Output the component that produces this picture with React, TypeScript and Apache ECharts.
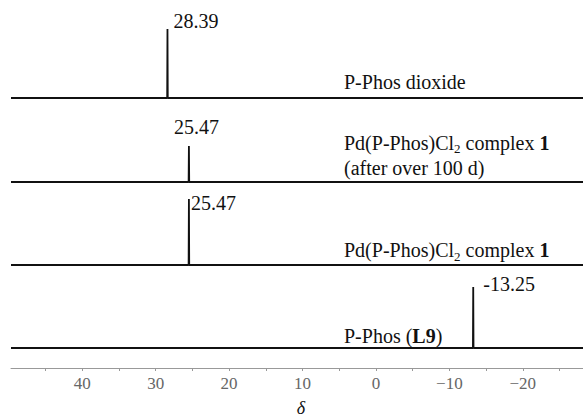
import React, { useEffect, useRef } from "react";
import * as echarts from "echarts";

// ---- data ----
const traceNames = [
  "P-Phos dioxide",
  "Pd(P-Phos)Cl2 complex 1 (after over 100 d)",
  "Pd(P-Phos)Cl2 complex 1",
  "P-Phos (L9)",
];
const peakShifts = [28.39, 25.47, 25.47, -13.25];
const peakLabels = ["28.39", "25.47", "25.47", "-13.25"];
const peakHeights = [69, 36, 66, 61];
const xTickValues = [45, 40, 35, 30, 25, 20, 15, 10, 5, 0, -5, -10, -15, -20, -25];
const xLabelValues = [40, 30, 20, 10, 0, -10, -20];
const xMin = -28.2;
const xMax = 49.7;

// ---- layout (not data) ----
const traceOffsets = [270, 186, 103, 20];
const peakLabelOffsets: [number, number][] = [
  [6, -8],
  [-15, -19],
  [2, 4],
  [10, -3],
];
const SERIF = "Liberation Serif";

export default function App() {
  const ref = useRef<HTMLDivElement>(null);
  useEffect(() => {
    if (!ref.current) return;
    const chart = echarts.init(ref.current, undefined, { renderer: "svg" });
    const series = traceNames.map((name, i) => {
      const base = traceOffsets[i];
      const s = peakShifts[i];
      return {
        name,
        type: "line",
        showSymbol: false,
        symbol: "none",
        silent: true,
        lineStyle: { color: "#111", width: 1.8 },
        data: [
          [xMax, base],
          [s + 0.04, base],
          [s, base + peakHeights[i]],
          [s - 0.04, base],
          [xMin, base],
        ],
      };
    });

    const richStyles = {
      s: { fontFamily: SERIF, fontSize: 13, verticalAlign: "bottom", lineHeight: 25, fill: "#111" },
      b: { fontFamily: SERIF, fontSize: 20, fontWeight: "bold", lineHeight: 25, fill: "#111" },
    };
    const txt = (text: string, x: number, y: number, va: string) => ({
      type: "text",
      x,
      y,
      silent: true,
      style: {
        text,
        fontFamily: SERIF,
        fontSize: 20,
        lineHeight: 25,
        fill: "#111",
        textAlign: "left",
        textVerticalAlign: va,
        rich: richStyles,
      },
    });

    const graphics: any[] = [
      txt("P-Phos dioxide", 344, 82, "middle"),
      txt("Pd(P-Phos)Cl{s|2} complex {b|1}\n(after over 100 d)", 344, 130, "top"),
      txt("Pd(P-Phos)Cl{s|2} complex {b|1}", 344, 250, "middle"),
      txt("P-Phos ({b|L9})", 344, 336, "middle"),
      {
        type: "text",
        x: 301,
        y: 408,
        silent: true,
        style: {
          text: "\u03b4",
          fontFamily: SERIF,
          fontSize: 18,
          fontStyle: "italic",
          fill: "#111",
          textAlign: "center",
          textVerticalAlign: "middle",
        },
      },
    ];

    const option: any = {
      animation: false,
      grid: { left: 11, right: 0, top: 0, bottom: 52 },
      xAxis: {
        type: "value",
        inverse: true,
        min: xMin,
        max: xMax,
        splitLine: { show: false },
        axisLine: { show: true, lineStyle: { color: "#999", width: 1 } },
        axisTick: {
          show: true,
          length: 3,
          customValues: xTickValues,
          lineStyle: { color: "#999" },
        },
        axisLabel: {
          customValues: xLabelValues,
          margin: 7,
          fontFamily: SERIF,
          fontSize: 17,
          color: "#666",
          formatter: (v: number) => (v < 0 ? "\u2212" + Math.abs(v) : String(v)),
        },
      },
      yAxis: { type: "value", min: 0, max: 368, show: false },
      series,
      graphic: graphics,
    };
    chart.setOption(option);

    // peak labels placed through the chart's own scales
    const peakTexts = peakShifts.map((s, i) => {
      const [px, py] = chart.convertToPixel({ gridIndex: 0 }, [s, traceOffsets[i] + peakHeights[i]]) as number[];
      return {
        type: "text",
        x: px + peakLabelOffsets[i][0],
        y: py + peakLabelOffsets[i][1],
        silent: true,
        style: {
          text: peakLabels[i],
          fontFamily: SERIF,
          fontSize: 20,
          fill: "#111",
          textAlign: "left",
          textVerticalAlign: "middle",
        },
      };
    });
    chart.setOption({ graphic: graphics.concat(peakTexts) });
    return () => chart.dispose();
  }, []);
  return (
    <div
      ref={ref}
      style={{ position: "fixed", left: 0, top: 0, width: 583, height: 420, background: "#fff" }}
    />
  );
}
